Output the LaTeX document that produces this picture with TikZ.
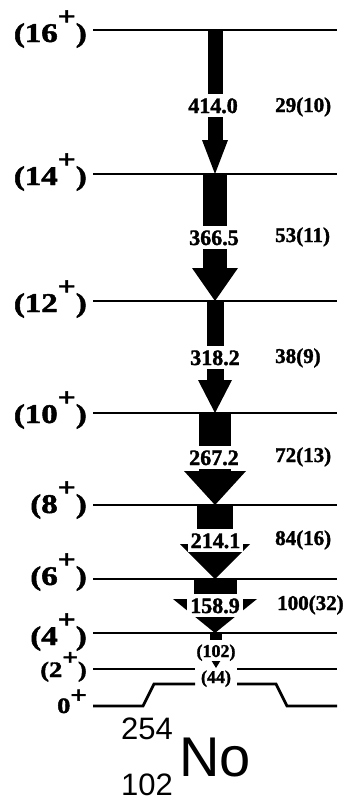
\documentclass[tikz,border=0pt]{standalone}
\usepackage{fontspec}
\setmainfont{Liberation Serif}[BoldFeatures={FakeBold=1.6}]
\setsansfont{Liberation Sans}
\newcommand{\jbig}[1]{\scalebox{1.22}[1]{\fontsize{27}{27}\selectfont\bfseries(#1\raisebox{17pt}{\fontsize{26}{26}\selectfont +})}}
\newcommand{\jsmall}[1]{\scalebox{1.2}[1]{\fontsize{22}{22}\selectfont\bfseries(#1\raisebox{12pt}{\fontsize{23}{23}\selectfont +})}}
\begin{document}
\begin{tikzpicture}[x=1pt,y=-1pt,
  lev/.style={line width=2.8pt},
  elab/.style={font=\fontsize{22}{22}\selectfont\bfseries, fill=white, inner xsep=3pt, inner ysep=3pt, text height=16pt, text depth=1pt, anchor=base},
  ilab/.style={font=\fontsize{21}{21}\selectfont\bfseries, inner sep=0pt, anchor=base west},
  jlab/.style={inner sep=0pt, anchor=base east},
  slab/.style={font=\fontsize{18}{18}\selectfont\bfseries, inner xsep=2pt, inner ysep=3pt, text height=14pt, text depth=1pt, anchor=base},
  nuc/.style={inner sep=0pt, anchor=base west, font=\sffamily}
]
\useasboundingbox (0,0) rectangle (352,801);
% level lines
\foreach \y in {30,174,301,413,505,579,633} \draw[lev] (93,\y) -- (337,\y);
\draw[lev] (93,669) -- (195,669);
\draw[lev] (237,669) -- (337,669);
\draw[lev] (93,706) -- (143,706) -- (154,684) -- (195,684);
\draw[lev] (237,684) -- (276,684) -- (287,706) -- (337,706);
% gamma arrows: centre x / top / head top / apex / bar half width / head half width
\foreach \cx/\ya/\yh/\yb/\bw/\hw in {
  215/30/140/174/7.5/13,
  215/174/268/301/12/23,
  215/301/380/413/8.5/17,
  215/413/471/505/16/31,
  215/505/544/579/18/35,
  215/579/599/633/21.5/42,
  216/633/655/668/6/8} {
  \fill ({\cx-\bw},\ya) rectangle ({\cx+\bw},\yh);
  \fill ({\cx-\hw},\yh) -- ({\cx+\hw},\yh) -- (\cx,\yb) -- cycle;
}
% energy labels
\node[elab] (e414) at (213,113) {414.0};
\node[elab] (e366) at (214,245) {366.5};
\node[elab] (e318) at (215,365) {318.2};
\node[elab] (e267) at (214,465) {267.2};
\node[elab] (e214) at (215.5,548) {214.1};
\node[elab] (e159) at (215,613) {158.9};
\node[slab, fill=white] (e102) at (216,657) {(102)};
\node[slab] (e44) at (216,683) {(44)};
% intensities
\node[ilab] (i1) at (275,112) {29(10)};
\node[ilab] (i2) at (275,242) {53(11)};
\node[ilab] (i3) at (275,363) {38(9)};
\node[ilab] (i4) at (275,462) {72(13)};
\node[ilab] (i5) at (275,545) {84(16)};
\node[ilab] (i6) at (277,610) {100(32)};
% spin labels
\node[jlab] (j16) at (87,42) {\jbig{16}};
\node[jlab] (j14) at (87,185) {\jbig{14}};
\node[jlab] (j12) at (87,312) {\jbig{12}};
\node[jlab] (j10) at (87,423) {\jbig{10}};
\node[jlab] (j8) at (87,513) {\jbig{8}};
\node[jlab] (j6) at (87,585) {\jbig{6}};
\node[jlab] (j4) at (87,645) {\jbig{4}};
\node[jlab] (j2) at (87,677) {\jsmall{2}};
\node[jlab] (j0) at (87,713) {\scalebox{1.2}[1]{\fontsize{22}{22}\selectfont\bfseries 0\raisebox{10pt}{\fontsize{24}{24}\selectfont +}}};
% nuclide
\node[nuc, font=\sffamily\fontsize{31}{31}\selectfont] (mass) at (121,739) {254};
\node[nuc, font=\sffamily\fontsize{31}{31}\selectfont] (zed) at (121,795) {102};
\node[nuc, font=\sffamily\fontsize{56}{56}\selectfont] (el) at (179,776) {No};
\end{tikzpicture}
\end{document}
